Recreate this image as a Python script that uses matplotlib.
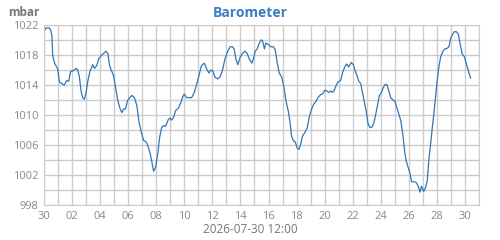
import numpy as np
import pandas as pd
import matplotlib
matplotlib.use('Agg')
import matplotlib.pyplot as plt
import matplotlib.dates as mdates

plt.rcParams['font.family'] = ['Open Sans', 'DejaVu Sans']

# days since 2026-06-30 00:00, pressure in mbar
days = [0.0, 0.14, 0.38, 0.48, 0.57, 0.62, 0.76, 0.98, 1.1, 1.33, 1.45, 1.62, 1.76, 1.9,
        2.1, 2.29, 2.4, 2.52, 2.64, 2.76, 2.88, 3.0, 3.14, 3.29, 3.48, 3.6, 3.76, 3.9,
        4.07, 4.24, 4.43, 4.55, 4.67, 4.79, 4.95, 5.1, 5.26, 5.43, 5.55, 5.67, 5.81,
        5.95, 6.1, 6.26, 6.45, 6.62, 6.76, 6.93, 7.1, 7.29, 7.4, 7.55, 7.67, 7.81,
        7.95, 8.1, 8.24, 8.38, 8.52, 8.67, 8.86, 9.0, 9.1, 9.24, 9.38, 9.57, 9.76,
        9.86, 10.0, 10.17, 10.33, 10.52, 10.71, 10.88, 11.05, 11.19, 11.29, 11.43,
        11.6, 11.76, 11.9, 12.05, 12.19, 12.38, 12.55, 12.71, 12.9, 13.1, 13.26,
        13.43, 13.55, 13.67, 13.81, 13.98, 14.14, 14.33, 14.48, 14.62, 14.81, 14.93,
        15.05, 15.19, 15.33, 15.48, 15.57, 15.71, 15.81, 15.98, 16.14, 16.33, 16.48,
        16.62, 16.76, 16.95, 17.1, 17.24, 17.4, 17.52, 17.64, 17.76, 17.9, 18.05,
        18.17, 18.29, 18.43, 18.6, 18.76, 18.9, 19.07, 19.24, 19.38, 19.55, 19.71,
        19.86, 20.0, 20.14, 20.29, 20.43, 20.57, 20.67, 20.81, 20.95, 21.14, 21.29,
        21.43, 21.57, 21.71, 21.9, 22.05, 22.19, 22.31, 22.43, 22.57, 22.67, 22.81,
        22.95, 23.1, 23.24, 23.38, 23.5, 23.62, 23.76, 23.9, 24.05, 24.19, 24.33,
        24.45, 24.57, 24.71, 24.86, 25.0, 25.14, 25.29, 25.43, 25.57, 25.71, 25.81,
        25.95, 26.1, 26.19, 26.38, 26.52, 26.67, 26.79, 26.9, 27.05, 27.19, 27.31,
        27.43, 27.55, 27.67, 27.79, 27.9, 28.02, 28.14, 28.26, 28.43, 28.57, 28.74,
        28.86, 28.98, 29.1, 29.24, 29.38, 29.52, 29.67, 29.81, 29.95, 30.1, 30.24, 30.4]
pressure = [1021.1, 1021.6, 1021.6, 1021.3, 1020.5, 1017.9, 1016.9, 1016.1, 1014.4, 1014.1,
            1014.0, 1014.6, 1014.5, 1015.8, 1015.9, 1016.2, 1016.05, 1015.1, 1013.2, 1012.3,
            1012.1, 1013.0, 1014.7, 1015.9, 1016.7, 1016.2, 1016.6, 1017.5, 1017.9, 1018.2,
            1018.5, 1018.2, 1016.6, 1016.0, 1015.3, 1013.7, 1011.9, 1010.8, 1010.3, 1010.8,
            1010.8, 1011.9, 1012.3, 1012.6, 1012.3, 1011.2, 1009.2, 1007.7, 1006.6, 1006.4,
            1005.9, 1005.0, 1003.9, 1002.5, 1003.0, 1004.75, 1007.0, 1008.3, 1008.6, 1008.5,
            1009.4, 1009.6, 1009.3, 1009.7, 1010.6, 1010.9, 1011.7, 1012.3, 1012.8, 1012.3,
            1012.3, 1012.3, 1013.0, 1014.1, 1015.3, 1016.4, 1016.7, 1016.9, 1016.1, 1015.6,
            1016.0, 1015.8, 1015.0, 1014.8, 1015.1, 1015.9, 1017.5, 1018.5, 1019.1, 1019.1,
            1018.8, 1017.5, 1016.7, 1017.7, 1018.2, 1018.5, 1018.2, 1017.5, 1016.9, 1017.5,
            1018.5, 1018.8, 1019.5, 1020.0, 1019.9, 1018.8, 1019.6, 1019.4, 1019.1, 1019.1,
            1018.7, 1017.0, 1015.6, 1015.0, 1013.7, 1011.9, 1010.6, 1009.2, 1007.2, 1006.6,
            1006.4, 1005.6, 1005.4, 1006.1, 1007.2, 1007.7, 1008.3, 1009.7, 1010.8, 1011.5,
            1011.8, 1012.4, 1012.7, 1012.8, 1013.3, 1013.2, 1013.0, 1013.2, 1013.0, 1013.2,
            1013.9, 1014.4, 1014.6, 1015.7, 1016.4, 1016.8, 1016.4, 1017.0, 1016.7, 1015.8,
            1015.25, 1014.5, 1014.2, 1013.2, 1011.9, 1010.6, 1008.8, 1008.3, 1008.4, 1008.9,
            1009.9, 1011.2, 1012.6, 1013.0, 1013.7, 1014.1, 1014.0, 1013.2, 1012.3, 1012.0,
            1011.9, 1011.0, 1010.1, 1009.2, 1007.4, 1005.0, 1003.9, 1003.0, 1002.1, 1001.1,
            1001.1, 1001.0, 1000.5, 999.7, 1000.5, 999.8, 1000.3, 1001.2, 1004.1, 1006.1,
            1008.3, 1010.3, 1012.3, 1014.6, 1016.4, 1017.7, 1018.5, 1018.8, 1018.9, 1019.1,
            1020.2, 1020.7, 1021.1, 1021.1, 1020.8, 1019.3, 1018.1, 1017.8, 1016.8, 1015.9,
            1014.9]

start = pd.Timestamp('2026-06-30')
times = start + pd.to_timedelta(days, unit='D')

fig = plt.figure(figsize=(5, 2.4), dpi=100)
ax = fig.add_axes([0.088, 0.146, 0.87, 0.75])
ax.plot(times, pressure, color='#3276b6', lw=0.9)

ax.set_xlim(start, start + pd.Timedelta(days=31))
ax.set_ylim(998, 1022)
ax.set_yticks(np.arange(998, 1023, 4))
ax.set_yticks(np.arange(998, 1023, 2), minor=True)
ax.xaxis.set_major_locator(mdates.DayLocator(bymonthday=[30, 2, 4, 6, 8, 10, 12, 14, 16, 18,
                                                         20, 22, 24, 26, 28]))
ax.xaxis.set_minor_locator(mdates.DayLocator())
ax.xaxis.set_major_formatter(mdates.DateFormatter('%d'))
ax.grid(True, which='both', color='#cccccc', lw=1)
ax.set_axisbelow(True)
ax.tick_params(which='both', length=0, labelsize=8, colors='#888888', pad=4)
for s in ax.spines.values():
    s.set_color('#cccccc')

fig.text(0.5, 0.975, 'Barometer', ha='center', va='top', fontsize=10,
         fontweight='bold', color='#3b7fc0')
fig.text(0.016, 0.975, 'mbar', ha='left', va='top', fontsize=8.5,
         fontweight='bold', color='#777777')
fig.text(0.5, 0.015, '2026-07-30 12:00', ha='center', va='bottom', fontsize=8.5,
         color='#777777')

fig.savefig('out.png', dpi=100)
